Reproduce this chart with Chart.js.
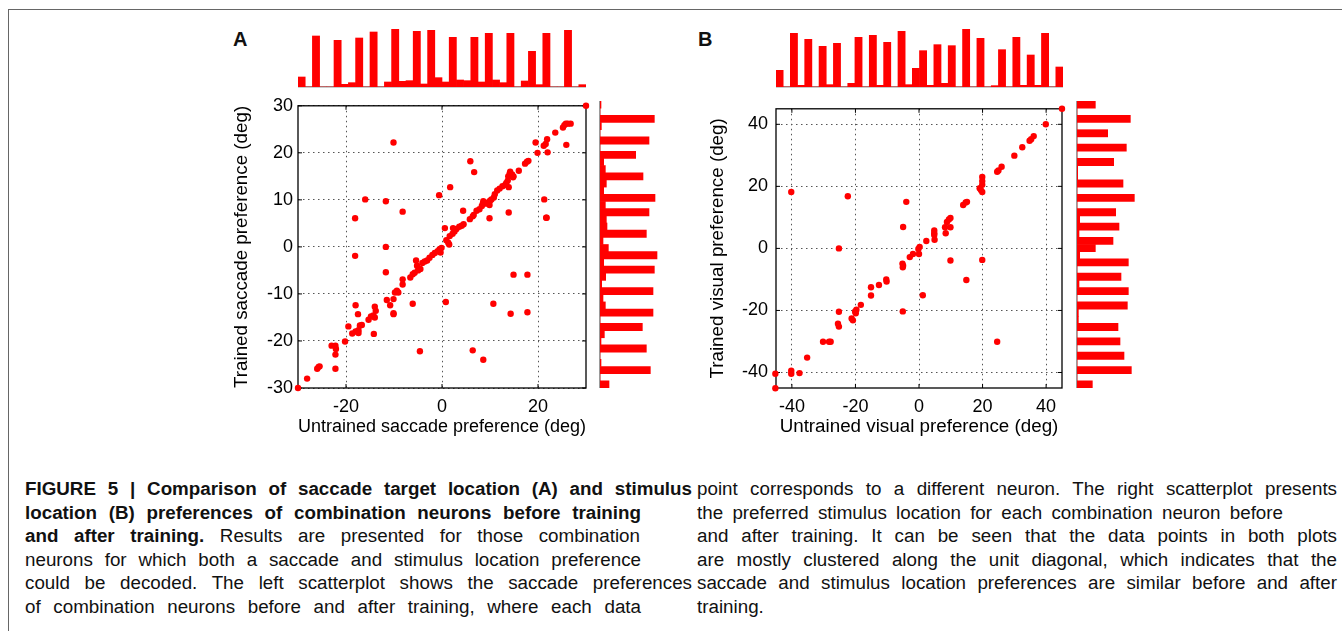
<!DOCTYPE html>
<html>
<head>
<meta charset="utf-8">
<script src="https://cdn.jsdelivr.net/npm/chart.js@4.4.0/dist/chart.umd.min.js"></script>
<style>
  html, body { margin:0; padding:0; background:#fff; }
  body { width:1342px; height:631px; position:relative; overflow:hidden; font-family:"Liberation Sans", Arial, Helvetica, sans-serif; color:#111; }
  canvas { position:absolute; }
  .frameTop { position:absolute; left:8px; top:9px; width:1334px; height:0; border-top:1.5px solid #666; }
  .frameLeft { position:absolute; left:8px; top:9px; width:0; height:622px; border-left:1.5px solid #666; }
  .panel { position:absolute; font-weight:bold; font-size:20px; }
  .cap { position:absolute; font-size:18.8px; line-height:23.6px; height:23.6px; white-space:nowrap; text-align:left; }
  b { font-weight:bold; }
</style>
</head>
<body>
<div class="frameTop"></div>
<div class="frameLeft"></div>
<div class="panel" style="left:233px; top:28px;">A</div>
<div class="panel" style="left:698px; top:28px;">B</div>

<canvas id="histTopA" width="288" height="61" style="left:298px; top:27px;"></canvas>
<canvas id="scatA" width="380" height="355" style="left:220px; top:90px;"></canvas>
<canvas id="histRightA" width="61" height="287" style="left:599px; top:101px;"></canvas>

<canvas id="histTopB" width="287" height="61" style="left:776px; top:27px;"></canvas>
<canvas id="scatB" width="386" height="355" style="left:690px; top:90px;"></canvas>
<canvas id="histRightB" width="61" height="287" style="left:1076px; top:101px;"></canvas>

<div class="cap" data-w="667" style="left:25px; top:477px;"><span><b>FIGURE 5 | Comparison of saccade target location (A) and stimulus</b></span></div>
<div class="cap" data-w="616" style="left:25px; top:500.6px;"><span><b>location (B) preferences of combination neurons before training</b></span></div>
<div class="cap" data-w="615" style="left:25px; top:524.2px;"><span><b>and after training.</b> Results are presented for those combination</span></div>
<div class="cap" data-w="616" style="left:25px; top:547.8px;"><span>neurons for which both a saccade and stimulus location preference</span></div>
<div class="cap" data-w="667" style="left:25px; top:571.4px;"><span>could be decoded. The left scatterplot shows the saccade preferences</span></div>
<div class="cap" data-w="616" style="left:25px; top:595px;"><span>of combination neurons before and after training, where each data</span></div>

<div class="cap" data-w="640" style="left:697px; top:477px;"><span>point corresponds to a different neuron. The right scatterplot presents</span></div>
<div class="cap" data-w="586" style="left:697px; top:500.6px;"><span>the preferred stimulus location for each combination neuron before</span></div>
<div class="cap" data-w="640" style="left:697px; top:524.2px;"><span>and after training. It can be seen that the data points in both plots</span></div>
<div class="cap" data-w="640" style="left:697px; top:547.8px;"><span>are mostly clustered along the unit diagonal, which indicates that the</span></div>
<div class="cap" data-w="640" style="left:697px; top:571.4px;"><span>saccade and stimulus location preferences are similar before and after</span></div>
<div class="cap" style="left:697px; top:595px;"><span>training.</span></div>

<script>
// ---------------- DATA ----------------
// Panel A scatter: untrained (x) vs trained (y) saccade preference (deg)
const untrainedSaccade = [-30,30,-28.1,-26,-25.7,-25.5,-23,-22.2,-22.1,-22.2,-22.2,-20.2,-19.5,-18.7,-18,-17.4,-17.4,-18,-17.5,-18.1,-18.1,-16,-17.1,-16.7,-15.3,-14.8,-14.3,-14,-13.8,-14,-14.2,-11.7,-11.7,-11.7,-11.5,-10.8,-10.1,-10.1,-10.1,-9.8,-9.4,-9.1,-10.1,-8.2,-8.2,-8.2,-6.6,-6.1,-5.7,-5.4,-5.2,-5,-4.5,-4.1,-3.6,-3.1,-2.6,-2,-1.5,-0.9,-0.5,-0.3,-0.1,-6.1,-4.6,-0.6,0.6,0.8,0.9,1.3,1.5,1.7,1.6,2.2,2.3,2.6,3,3.6,4.1,4.5,4.4,5.8,6.4,6.6,7.2,7.8,8.3,8.6,8.5,9,9.3,10,10.3,10.8,11,11.5,12,12.6,13.2,5.9,6.7,6.4,8.6,9.9,9.9,10.7,13.4,13.7,13.8,14.1,14.2,14.6,14.8,14.9,13.9,13.9,14.9,14.3,16,17.3,17.7,18,17.8,17.8,19.5,19.9,21.3,21.7,21.8,21.2,21.6,21.9,22,23.6,25.2,25.5,25.8,26.2,26.8,25.9];
const trainedSaccade   = [-30,30,-28,-25.9,-25.5,-25.4,-21,-21,-21.7,-22.9,-25.9,-20.1,-16.9,-18.4,-18,-18.3,-17.7,-12.4,-14.3,6.1,-1.9,10.1,-16.7,-16.6,-15.5,-14.8,-14.6,-12.7,-13.6,-15,-18.5,9.7,0,-5.4,-11.3,-12.4,-14.1,-14.3,-11.1,-9.7,-9.3,-9.7,22.2,7.5,-6.9,-8,-6.5,-5.8,-5.5,-2.9,-4,-5,-4.7,-3.4,-3.1,-2.9,-2.3,-1.7,-1.3,-0.9,-0.5,-1.2,-0.2,-12.1,-22.2,11,4,-11.7,1.4,0.9,0.5,12.7,2.3,2.8,4,3.3,3.8,4.3,4.5,4.8,7.7,5.9,6.5,6.8,7.7,8,8.7,9.7,9.2,9.2,9.4,9.8,10.1,10.5,11.2,12,12.4,12.9,13.2,18.2,15.9,-22,-24,6.1,8.9,-12.1,13.6,14.1,15,15.6,16,15.4,14.8,15,12.7,7.3,-5.9,-14.2,16.2,17.7,18.1,18.3,-5.9,-13.9,22.2,20,10.1,6.2,6.2,21.5,21.9,22.9,20.1,24.3,25.4,25.9,26.2,26.2,26.2,21.7];

// Panel B scatter: untrained (x) vs trained (y) visual preference (deg)
const untrainedVisual = [45,39.9,-45.2,-45.2,-40.2,-40.2,-37.6,-40.2,-35.2,-30.2,-28.3,-27.8,-25.5,-25.2,-25.2,-25.2,-22.4,-21.2,-20.8,-20.1,-19.9,-19.7,-18.3,-15.1,-15.1,-12.6,-10.3,-10.2,-5,-4,-5.2,-5,-5.1,-5.1,-2.9,-1.9,-0.2,0.2,0,1.2,2.3,4.8,4.8,4.8,4.9,8.2,8.4,8.8,9.4,9.9,9.9,9.9,13.9,14.7,15.1,14.9,19.1,19.5,19.9,19.9,19.9,19.9,19.9,24.6,25,26,24.6,30,32.5,34.8,35.3,36.1];
const trainedVisual   = [45,40,-40.4,-45.1,-39.4,-40.4,-40.2,18.2,-35.2,-30.1,-30.1,-30.1,-24.3,-25.2,-20.4,0,16.8,-22.6,-23.2,-20.3,-20.9,-19.8,-18.2,-12.5,-15.2,-11.8,-10,-10.7,6.9,15,-4.9,-5.6,-6.1,-20.3,-2.8,-1.8,-0.2,0.5,-1.8,-15.1,2.4,5.8,4.9,4.3,2.8,6.8,4.9,8.5,9.3,9.8,6.8,-3.9,14,14.8,15,-10.2,19.4,18.8,18.2,23,21.7,20.5,-3.7,24.7,25.1,26.3,-30.1,29.9,32.6,34.7,35.2,36.2];

// Histogram bin centres (deg)
const binsA = [-29.25,-27.75,-26.25,-24.75,-23.25,-21.75,-20.25,-18.75,-17.25,-15.75,-14.25,-12.75,-11.25,-9.75,-8.25,-6.75,-5.25,-3.75,-2.25,-0.75,0.75,2.25,3.75,5.25,6.75,8.25,9.75,11.25,12.75,14.25,15.75,17.25,18.75,20.25,21.75,23.25,24.75,26.25,27.75,29.25];
const binsB = [-43.875,-41.625,-39.375,-37.125,-34.875,-32.625,-30.375,-28.125,-25.875,-23.625,-21.375,-19.125,-16.875,-14.625,-12.375,-10.125,-7.875,-5.625,-3.375,-1.125,1.125,3.375,5.625,7.875,10.125,12.375,14.625,16.875,19.125,21.375,23.625,25.875,28.125,30.375,32.625,34.875,37.125,39.375,41.625,43.875];

// Histogram heights (relative counts), ordered from the lowest bin upward
const histUntrainedSaccade = [30,0,153,0,0,140,8,13,147,0,165,0,15,173,17,19,167,9,170,28,15,149,21,19,149,15,161,21,13,161,0,18,107,7,161,0,0,170,0,7];
const histTrainedSaccade   = [27,0,151,3,0,139,3,13,127,0,159,16,9,159,5,17,163,11,171,25,9,139,21,19,147,16,165,11,19,129,16,11,107,0,147,0,4,163,0,3];
const histUntrainedVisual  = [50,0,161,5,143,0,122,7,131,0,11,149,0,155,5,134,0,167,7,56,109,5,127,11,124,0,173,0,146,0,4,112,0,149,5,96,5,161,0,60];
const histTrainedVisual    = [46,0,163,0,141,0,129,0,123,4,4,151,0,154,6,132,0,154,8,55,108,6,126,8,116,0,172,0,138,2,2,110,0,148,0,92,0,160,0,55];

// Axis ticks
const ticksA_x = [-20, 0, 20];
const ticksA_y = [-30, -20, -10, 0, 10, 20, 30];
const ticksB_x = [-40, -20, 0, 20, 40];
const ticksB_y = [-40, -20, 0, 20, 40];
const rangeA = [-30, 30];
const rangeB = [-45, 45];
const histMax = 180;

// ---------------- CAPTION JUSTIFICATION ----------------
document.querySelectorAll('.cap[data-w]').forEach(el => {
  const span = el.querySelector('span');
  const target = parseFloat(el.dataset.w);
  const w = span.getBoundingClientRect().width;
  const spaces = (span.textContent.match(/ /g) || []).length;
  if (spaces > 0) span.style.wordSpacing = ((target - w) / spaces) + 'px';
});

// ---------------- DRAWING ----------------
const RED = 'rgb(255,0,0)';
const FONT = '"Liberation Sans", Arial, Helvetica, sans-serif';
Chart.defaults.font.family = FONT;
Chart.defaults.color = '#000';

const matlabBox = {
  id: 'matlabBox',
  beforeDatasetsDraw(chart) {
    const {ctx, chartArea: a, scales} = chart;
    ctx.save();
    ctx.strokeStyle = '#000';
    ctx.lineWidth = 1.3;
    ctx.strokeRect(a.left, a.top, a.right - a.left, a.bottom - a.top);
    const L = 4;
    ctx.beginPath();
    scales.x.ticks.forEach(t => {
      const p = scales.x.getPixelForValue(t.value);
      ctx.moveTo(p, a.bottom); ctx.lineTo(p, a.bottom - L);
      ctx.moveTo(p, a.top); ctx.lineTo(p, a.top + L);
    });
    scales.y.ticks.forEach(t => {
      const p = scales.y.getPixelForValue(t.value);
      ctx.moveTo(a.left, p); ctx.lineTo(a.left + L, p);
      ctx.moveTo(a.right, p); ctx.lineTo(a.right - L, p);
    });
    ctx.lineWidth = 1;
    ctx.stroke();
    ctx.restore();
  }
};

function scatterChart(id, xs, ys, range, tx, ty, xTitle, yTitle, yWidth, yTitlePad, yTickPad) {
  const pts = xs.map((x, i) => ({x: x, y: ys[i]}));
  return new Chart(document.getElementById(id), {
    type: 'scatter',
    data: { datasets: [{ data: pts, backgroundColor: RED, borderWidth: 0, pointRadius: 3.2, pointHoverRadius: 3.2, clip: false }] },
    options: {
      responsive: false, animation: false, devicePixelRatio: 1,
      layout: { padding: { top: 11, right: 14, left: 0, bottom: 0 } },
      plugins: { legend: { display: false }, tooltip: { enabled: false } },
      scales: {
        x: {
          type: 'linear', min: range[0], max: range[1],
          afterBuildTicks: s => { s.ticks = tx.map(v => ({value: v})); },
          afterFit: s => { s.height = 57; },
          grid: { color: '#555', lineWidth: 1, drawTicks: false },
          border: { display: false, dash: [1.5, 3.5] },
          ticks: { font: { size: 18 }, padding: 8, color: '#000', maxRotation: 0 },
          title: { display: true, text: xTitle, font: { size: 18.8 }, color: '#000', padding: { top: 0, bottom: 7 } }
        },
        y: {
          type: 'linear', min: range[0], max: range[1],
          afterBuildTicks: s => { s.ticks = ty.map(v => ({value: v})); },
          afterFit: s => { s.width = yWidth; },
          grid: { color: '#555', lineWidth: 1, drawTicks: false },
          border: { display: false, dash: [1.5, 3.5] },
          ticks: { font: { size: 18 }, padding: yTickPad, color: '#000' },
          title: { display: true, text: yTitle, font: { size: 18.8 }, color: '#000', padding: { top: yTitlePad, bottom: 0 } }
        }
      }
    },
    plugins: [matlabBox]
  });
}

function topHist(id, labels, values) {
  return new Chart(document.getElementById(id), {
    type: 'bar',
    data: { labels: labels, datasets: [{ data: values, backgroundColor: RED, borderWidth: 0, barPercentage: 1, categoryPercentage: 1 }] },
    options: {
      responsive: false, animation: false, devicePixelRatio: 1,
      layout: { padding: 0 },
      plugins: { legend: { display: false }, tooltip: { enabled: false } },
      scales: {
        x: { display: true, afterFit: s => { s.height = 1; }, ticks: { display: false }, grid: { display: false, drawTicks: false }, border: { display: true, color: '#9a9a9a', width: 1.5 } },
        y: { display: false, min: 0, max: histMax }
      }
    }
  });
}

function rightHist(id, labels, values) {
  return new Chart(document.getElementById(id), {
    type: 'bar',
    data: { labels: labels, datasets: [{ data: values, backgroundColor: RED, borderWidth: 0, barPercentage: 1, categoryPercentage: 1 }] },
    options: {
      indexAxis: 'y',
      responsive: false, animation: false, devicePixelRatio: 1,
      layout: { padding: 0 },
      plugins: { legend: { display: false }, tooltip: { enabled: false } },
      scales: {
        y: { display: true, reverse: true, afterFit: s => { s.width = 1; }, ticks: { display: false }, grid: { display: false, drawTicks: false }, border: { display: true, color: '#9a9a9a', width: 1.5 } },
        x: { display: false, min: 0, max: histMax }
      }
    }
  });
}

scatterChart('scatA', untrainedSaccade, trainedSaccade, rangeA, ticksA_x, ticksA_y,
  'Untrained saccade preference (deg)', 'Trained saccade preference (deg)', 78, 11, 5);
scatterChart('scatB', untrainedVisual, trainedVisual, rangeB, ticksB_x, ticksB_y,
  'Untrained visual preference (deg)', 'Trained visual preference (deg)', 86, 17, 8);
topHist('histTopA', binsA, histUntrainedSaccade);
rightHist('histRightA', binsA, histTrainedSaccade);
topHist('histTopB', binsB, histUntrainedVisual);
rightHist('histRightB', binsB, histTrainedVisual);
</script>
</body>
</html>
